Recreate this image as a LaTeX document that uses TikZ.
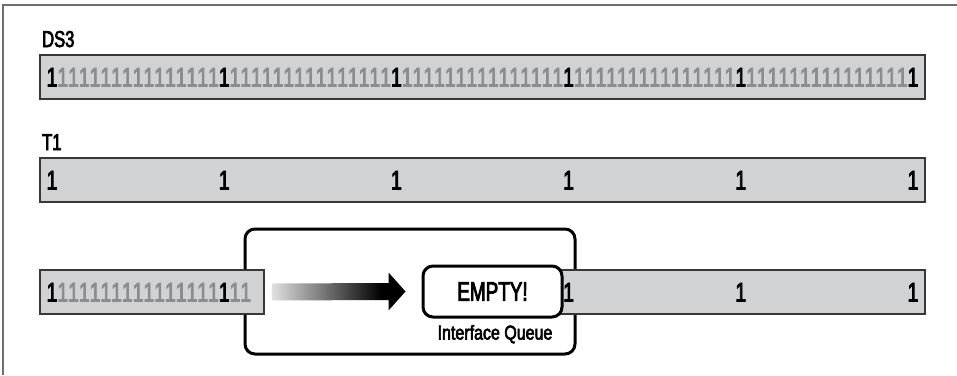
\documentclass[tikz,border=0pt]{standalone}
\usepackage{fontspec}
\setmainfont{Liberation Sans}
\newfontfamily\cf[FakeStretch=0.72,FakeBold=3]{Liberation Sans}
\newfontfamily\cfe[FakeStretch=0.70,FakeBold=3]{Liberation Sans}
\newfontfamily\cfq[FakeStretch=0.80,FakeBold=3]{Liberation Sans}
\usetikzlibrary{calc}
\definecolor{barfill}{RGB}{209,210,212}
\definecolor{barline}{RGB}{55,55,55}
\definecolor{dgray}{RGB}{140,140,140}
\definecolor{framegray}{RGB}{110,110,110}
\pgfdeclarehorizontalshading{arrowsh}{100bp}{color(0bp)=(white!88!black); color(25bp)=(white!88!black); color(66bp)=(black); color(100bp)=(black)}
\begin{document}
\begin{tikzpicture}[x=1pt,y=-1pt,
 bar/.style={draw=barline, fill=barfill, line width=1.6pt, inner sep=0pt, rectangle},
 digit/.style={font=\cf\fontsize{27}{30}\selectfont, inner sep=0pt, anchor=base},
 lbl/.style={font=\cf\fontsize{23}{26}\selectfont, inner sep=0pt, anchor=base west},
 qbox/.style={draw=black, line width=3pt, rounded corners=10pt, fill=white, inner sep=0pt},
]
\useasboundingbox (0,0) rectangle (957,375);
\draw[framegray, line width=1.5pt] (3,375) -- (3,5) -- (957,5);

% DS3 row
\node[lbl] (ds3lbl) at (42,47) {DS3};
\node[bar, minimum width=885pt, minimum height=44pt] (ds3) at (482.5,77) {};
\foreach \i in {0,...,80}{
  \pgfmathsetmacro\xx{52+\i*10.7625}
  \pgfmathtruncatemacro\m{mod(\i,16)}
  \ifnum\m=0 \def\dc{black}\else\def\dc{dgray}\fi
  \node[digit, text=\dc] (ds\i) at (\xx,86.5) {1};
}

% T1 row
\node[lbl] (t1lbl) at (42,150) {T1};
\node[bar, minimum width=885pt, minimum height=44pt] (t1) at (482.5,180) {};
\foreach \k in {0,...,5}{
  \node[digit] (t\k) at ({52+\k*172.2},189.5) {1};
}

% bottom row
\node[qbox, minimum width=330pt, minimum height=125pt] (iface) at (410,291.5) {};
\node[bar, minimum width=224pt, minimum height=44pt] (inbar) at (152,292) {};
\foreach \i in {0,...,18}{
  \pgfmathsetmacro\xx{52+\i*10.7625}
  \pgfmathtruncatemacro\m{mod(\i,16)}
  \ifnum\m=0 \def\dc{black}\else\def\dc{dgray}\fi
  \node[digit, text=\dc] (in\i) at (\xx,301.5) {1};
}
\node[bar, minimum width=385pt, minimum height=44pt] (outbar) at (732.5,292) {};
\foreach \k in {3,4,5}{
  \node[digit] (out\k) at ({52+\k*172.2},301.5) {1};
}
\node[qbox, minimum width=139pt, minimum height=51pt, font=\cfe\fontsize{27}{30}\selectfont] (empty) at (492.5,291.5) {EMPTY!};
\node[font=\cfq\fontsize{20}{22}\selectfont, anchor=base, inner sep=0pt] (iq) at (495,339.5) {Interface Queue};

% gradient arrow
\coordinate (as) at ($(inbar.east)+(7,0)$);
\coordinate (tip) at ($(empty.west)+(-16,0)$);
\shade[shading=arrowsh]
  ($(as)+(0,-8.5)$) -- ($(tip)+(-17,-8.5)$) -- ($(tip)+(-17,-19)$) -- (tip)
  -- ($(tip)+(-17,19)$) -- ($(tip)+(-17,8.5)$) -- ($(as)+(0,8.5)$) -- cycle;
\end{tikzpicture}
\end{document}
